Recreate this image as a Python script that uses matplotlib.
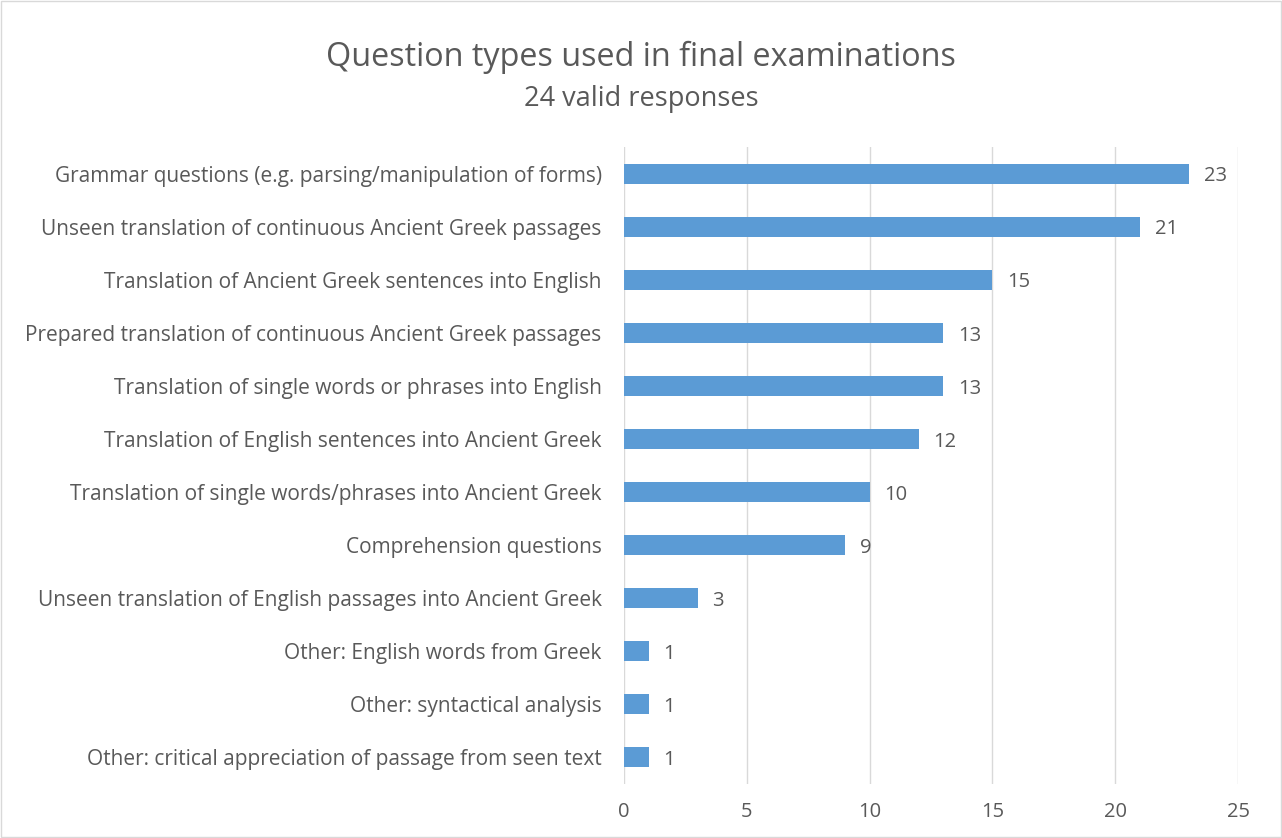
import matplotlib.pyplot as plt
from matplotlib.patches import Rectangle

categories = [
    "Grammar questions (e.g. parsing/manipulation of forms)",
    "Unseen translation of continuous Ancient Greek passages",
    "Translation of Ancient Greek sentences into English",
    "Prepared translation of continuous Ancient Greek passages",
    "Translation of single words or phrases into English",
    "Translation of English sentences into Ancient Greek",
    "Translation of single words/phrases into Ancient Greek",
    "Comprehension questions",
    "Unseen translation of English passages into Ancient Greek",
    "Other: English words from Greek",
    "Other: syntactical analysis",
    "Other: critical appreciation of passage from seen text",
]
counts = [23, 21, 15, 13, 13, 12, 10, 9, 3, 1, 1, 1]
xticks = [0, 5, 10, 15, 20, 25]

plt.rcParams['font.family'] = ['Open Sans', 'DejaVu Sans']
text_col = '#595959'

fig = plt.figure(figsize=(12.82, 8.38), dpi=100)
ax = fig.add_axes([0.4867, 0.065, 0.479, 0.759])

pos = list(range(len(categories)))
ax.barh(pos, counts, height=0.36, color='#5B9BD5', zorder=3)
for y, v in zip(pos, counts):
    ax.text(v + 0.6, y, str(v), va='center_baseline', ha='left', fontsize=14.5, color=text_col)

ax.set_ylim(len(categories) - 0.5, -0.5)
ax.set_xlim(0, 25)
ax.set_xticks(xticks)
ax.set_yticks(pos)
ax.set_yticklabels(categories, fontsize=15, color=text_col)
ax.tick_params(axis='x', labelsize=14.5, colors=text_col, length=0, pad=13)
ax.tick_params(axis='y', length=0, pad=16)
ax.grid(axis='x', color='#D9D9D9', linewidth=1, zorder=0)
for s in ax.spines.values():
    s.set_visible(False)

fig.text(0.5, 0.932, "Question types used in final examinations", ha='center', va='center',
         fontsize=23.3, color=text_col)
fig.text(0.5, 0.882, "24 valid responses", ha='center', va='center', fontsize=19.5, color=text_col)

fig.patches.append(Rectangle((0.001, 0.001), 0.998, 0.998, transform=fig.transFigure,
                             fill=False, edgecolor='#D9D9D9', linewidth=1))

fig.savefig("out.png", dpi=100)
